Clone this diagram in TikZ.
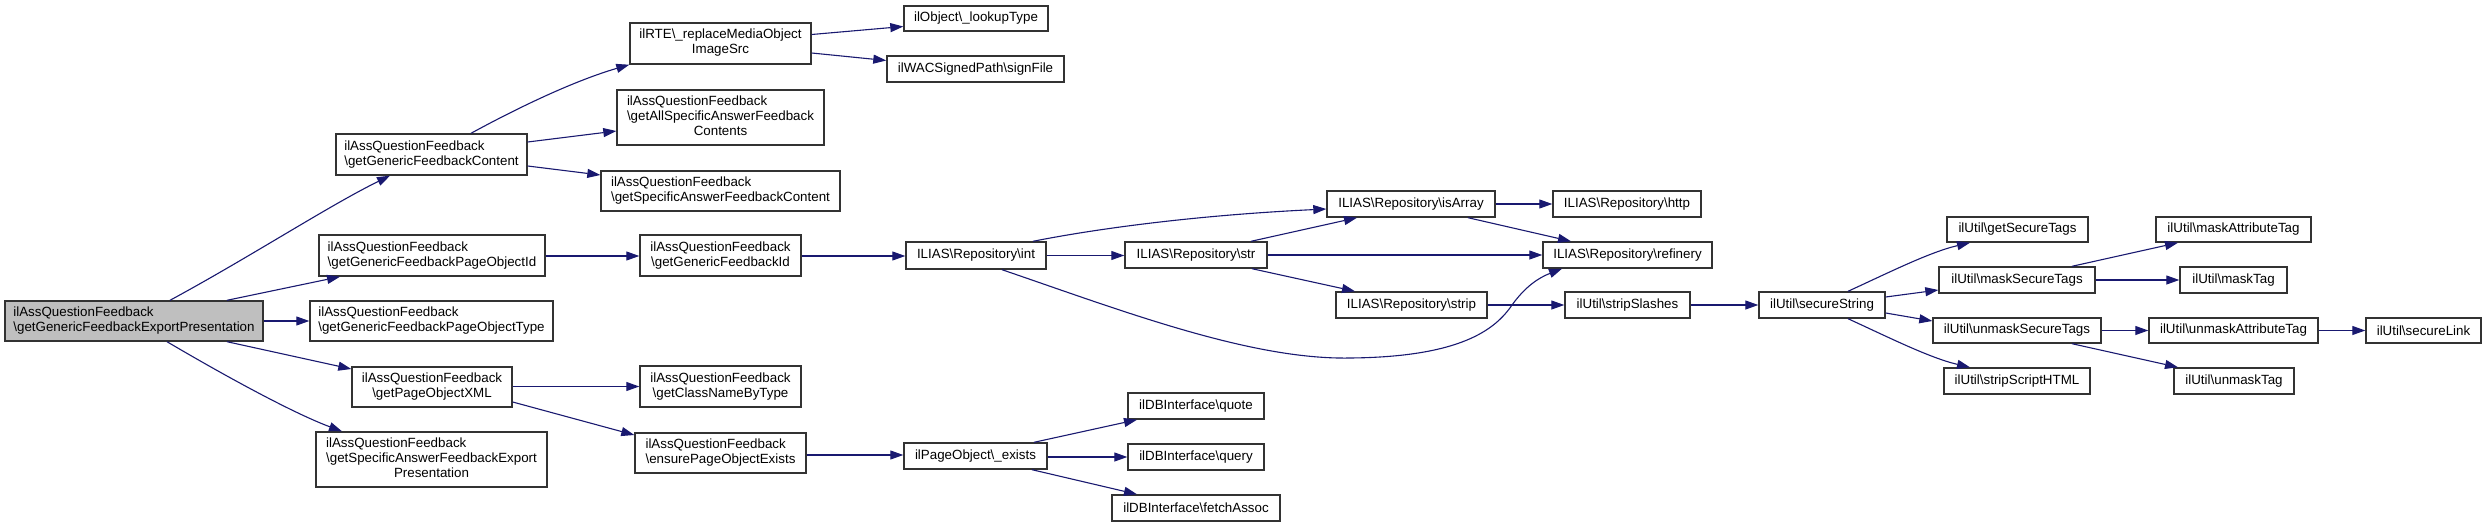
\documentclass[tikz,border=0pt]{standalone}
\usepackage{fontspec}
\setmainfont{Liberation Sans}
\usetikzlibrary{arrows.meta}
\definecolor{edgeblue}{HTML}{191970}
\definecolor{boxline}{HTML}{333333}
\definecolor{maingray}{HTML}{BFBFBF}
\newcommand{\bs}{\textbackslash}
\newcommand{\fs}{\fontsize{13.35}{15}\selectfont}
\newcommand{\tl}[1]{\begin{tabular}{@{}l@{}}#1\end{tabular}}
\newcommand{\tc}[1]{\begin{tabular}{@{}c@{}}#1\end{tabular}}
\newcommand{\cl}[1]{\multicolumn{1}{@{}c@{}}{#1}}
\tikzset{
  box/.style={draw=boxline, line width=1.4pt, fill=white, inner sep=0pt, font=\fs, anchor=center},
  edge/.style={draw=edgeblue, line width=1.1pt, -{Triangle[length=13pt,width=9pt]}},
}
\begin{document}
\begin{tikzpicture}[x=1pt,y=-1pt]
\useasboundingbox (0,0) rectangle (2487,527);
\fill[white] (0,0) rectangle (2487,527);
% column 1
\node[box, fill=maingray, minimum width=258pt, minimum height=40pt] (A) at (134,321) {\tl{ilAssQuestionFeedback\\\bs getGenericFeedbackExportPresentation}};
% column 2
\node[box, minimum width=191pt, minimum height=41pt] (B) at (431.5,154.5) {\tl{ilAssQuestionFeedback\\\bs getGenericFeedbackContent}};
\node[box, minimum width=226pt, minimum height=41pt] (C) at (432,255.5) {\tl{ilAssQuestionFeedback\\\bs getGenericFeedbackPageObjectId}};
\node[box, minimum width=243pt, minimum height=40pt] (D) at (431.5,321) {\tl{ilAssQuestionFeedback\\\bs getGenericFeedbackPageObjectType}};
\node[box, minimum width=160pt, minimum height=40pt] (E) at (432,387) {\tc{ilAssQuestionFeedback\\\bs getPageObjectXML}};
\node[box, minimum width=231pt, minimum height=55pt] (F) at (431.5,459.5) {\tl{ilAssQuestionFeedback\\\bs getSpecificAnswerFeedbackExport\\\cl{Presentation}}};
% column 3
\node[box, minimum width=181pt, minimum height=41pt] (G) at (720.5,43.5) {\tc{ilRTE\bs\_replaceMediaObject\\ImageSrc}};
\node[box, minimum width=207pt, minimum height=55pt] (H) at (720.5,117.5) {\tl{ilAssQuestionFeedback\\\bs getAllSpecificAnswerFeedback\\\cl{Contents}}};
\node[box, minimum width=239pt, minimum height=40pt] (I) at (720.5,191) {\tl{ilAssQuestionFeedback\\\bs getSpecificAnswerFeedbackContent}};
\node[box, minimum width=161pt, minimum height=41pt] (J) at (720.5,255.5) {\tc{ilAssQuestionFeedback\\\bs getGenericFeedbackId}};
\node[box, minimum width=161pt, minimum height=41pt] (K) at (720.5,386.5) {\tc{ilAssQuestionFeedback\\\bs getClassNameByType}};
\node[box, minimum width=171pt, minimum height=40pt] (L) at (720.5,453) {\tl{ilAssQuestionFeedback\\\bs ensurePageObjectExists}};
% column 4
\node[box, minimum width=144pt, minimum height=25pt] (M) at (976,18.5) {ilObject\bs\_lookupType};
\node[box, minimum width=177pt, minimum height=26pt] (N) at (975.5,69) {ilWACSignedPath\bs signFile};
\node[box, minimum width=140pt, minimum height=27pt] (O) at (976,255.5) {ILIAS\bs Repository\bs int};
\node[box, minimum width=143pt, minimum height=26pt] (P) at (975.5,456) {ilPageObject\bs\_exists};
% column 5
\node[box, minimum width=142pt, minimum height=26pt] (Q) at (1196,255) {ILIAS\bs Repository\bs str};
\node[box, minimum width=136pt, minimum height=26pt] (W) at (1196,406) {ilDBInterface\bs quote};
\node[box, minimum width=136pt, minimum height=26pt] (X) at (1196,457) {ilDBInterface\bs query};
\node[box, minimum width=168pt, minimum height=26pt] (Y) at (1196,508) {ilDBInterface\bs fetchAssoc};
% column 6
\node[box, minimum width=168pt, minimum height=26pt] (R) at (1411,204) {ILIAS\bs Repository\bs isArray};
\node[box, minimum width=151pt, minimum height=26pt] (U) at (1411.5,305) {ILIAS\bs Repository\bs strip};
% column 7
\node[box, minimum width=148pt, minimum height=26pt] (S) at (1627,204) {ILIAS\bs Repository\bs http};
\node[box, minimum width=169pt, minimum height=26pt] (T) at (1627.5,255) {ILIAS\bs Repository\bs refinery};
\node[box, minimum width=125pt, minimum height=26pt] (V) at (1627.5,305) {ilUtil\bs stripSlashes};
% column 8
\node[box, minimum width=126pt, minimum height=26pt] (Z) at (1822,305) {ilUtil\bs secureString};
% column 9
\node[box, minimum width=141pt, minimum height=25pt] (AA) at (2017.5,229.5) {ilUtil\bs getSecureTags};
\node[box, minimum width=156pt, minimum height=26pt] (AB) at (2017,280) {ilUtil\bs maskSecureTags};
\node[box, minimum width=168pt, minimum height=25pt] (AC) at (2017,330.5) {ilUtil\bs unmaskSecureTags};
\node[box, minimum width=146pt, minimum height=26pt] (AD) at (2017,381) {ilUtil\bs stripScriptHTML};
% column 10
\node[box, minimum width=155pt, minimum height=25pt] (AE) at (2233.5,229.5) {ilUtil\bs maskAttributeTag};
\node[box, minimum width=107pt, minimum height=26pt] (AF) at (2233.5,280) {ilUtil\bs maskTag};
\node[box, minimum width=169pt, minimum height=25pt] (AG) at (2233.5,330.5) {ilUtil\bs unmaskAttributeTag};
\node[box, minimum width=120pt, minimum height=26pt] (AH) at (2234,381) {ilUtil\bs unmaskTag};
% column 11
\node[box, minimum width=115pt, minimum height=25pt] (AI) at (2423.5,330.5) {ilUtil\bs secureLink};
% edges
\draw[edge] (A.north -| 170,0) .. controls (250,257) and (330,205) .. (B.south -| 390,0);
\draw[edge] (A.north -| 227,0) -- (C.south -| 340,0);
\draw[edge] (A.east |- 0,321) -- (D.west |- 0,321);
\draw[edge] (A.south -| 227,0) -- (E.west |- 0,369);
\draw[edge] (A.south -| 167,0) .. controls (215,370) and (290,412) .. (F.north -| 342,0);
\draw[edge] (B.north -| 471,0) .. controls (510,112) and (570,82) .. (G.south west);
\draw[edge] (B.east |- 0,142) -- (H.west |- 0,131);
\draw[edge] (B.east |- 0,166) -- (I.west |- 0,175);
\draw[edge] (C.east |- 0,256) -- (J.west |- 0,256);
\draw[edge] (J.east |- 0,256) -- (O.west |- 0,256);
\draw[edge] (E.east |- 0,386.5) -- (K.west |- 0,386.5);
\draw[edge] (E.east |- 0,402) -- (L.west |- 0,435);
\draw[edge] (L.east |- 0,455) -- (P.west |- 0,455);
\draw[edge] (G.east |- 0,34.5) -- (M.west |- 0,26.5);
\draw[edge] (G.east |- 0,53) -- (N.west |- 0,60.5);
\draw[edge] (O.east |- 0,255.5) -- (Q.west |- 0,255.5);
\draw[edge] (O.north -| 1033,0) .. controls (1100,228) and (1200,215) .. (R.west |- 0,209);
\draw[edge] (O.south -| 1002,0) .. controls (1120,310) and (1250,360) .. (1350,358)
   .. controls (1460,357) and (1495,330) .. (1512,305)
   .. controls (1525,287) and (1538,278) .. (T.south -| 1562,0);
\draw[edge] (Q.north -| 1251,0) -- (R.south -| 1357,0);
\draw[edge] (Q.east |- 0,255) -- (T.west |- 0,255);
\draw[edge] (Q.south -| 1252,0) -- (U.north -| 1355,0);
\draw[edge] (R.east |- 0,204) -- (S.west |- 0,204);
\draw[edge] (R.south -| 1468,0) -- (T.north -| 1571,0);
\draw[edge] (U.east |- 0,305) -- (V.west |- 0,305);
\draw[edge] (V.east |- 0,305) -- (Z.west |- 0,305);
\draw[edge] (P.north -| 1034,0) -- (W.south -| 1137,0);
\draw[edge] (P.east |- 0,457) -- (X.west |- 0,457);
\draw[edge] (P.south -| 1032,0) -- (Y.north -| 1137,0);
\draw[edge] (Z.north -| 1848,0) .. controls (1890,272) and (1930,252) .. (AA.south -| 1970,0);
\draw[edge] (Z.east |- 0,297) -- (AB.west |- 0,290);
\draw[edge] (Z.east |- 0,313) -- (AC.west |- 0,321);
\draw[edge] (Z.south -| 1848,0) .. controls (1890,338) and (1930,358) .. (AD.north -| 1970,0);
\draw[edge] (AB.north -| 2072,0) -- (AE.south -| 2178,0);
\draw[edge] (AB.east |- 0,280) -- (AF.west |- 0,280);
\draw[edge] (AC.east |- 0,330.5) -- (AG.west |- 0,330.5);
\draw[edge] (AC.south -| 2072,0) -- (AH.north -| 2178,0);
\draw[edge] (AG.east |- 0,330.5) -- (AI.west |- 0,330.5);
\end{tikzpicture}
\end{document}
